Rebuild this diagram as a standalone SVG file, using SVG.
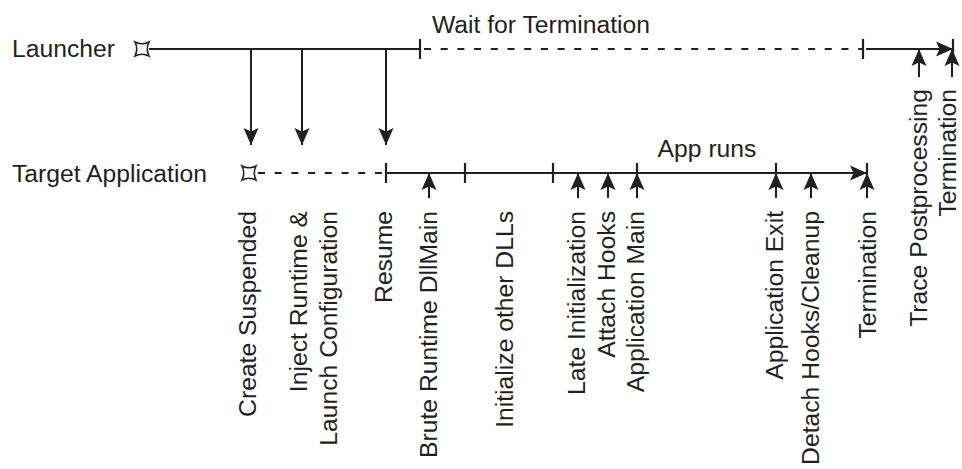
<svg xmlns="http://www.w3.org/2000/svg" width="962" height="469" viewBox="0 0 962 469">
  <style>
    text { font-family: "Liberation Sans", Arial, sans-serif; font-size: 24.7px; fill: #231f20; }
    .line { stroke: #231f20; stroke-width: 2; fill: none; }
    .dash { stroke: #231f20; stroke-width: 2; fill: none; stroke-dasharray: 7 9.7; }
    .tick { stroke: #231f20; stroke-width: 2.2; }
    .arrow { stroke: #231f20; stroke-width: 2; fill: none; marker-end: url(#head); }
    .start { fill: #fff; stroke: #231f20; stroke-width: 1.6; }
    .v { text-anchor: end; }
  </style>
  <defs>
    <marker id="head" markerUnits="userSpaceOnUse" viewBox="-18 -9 19 18" markerWidth="19" markerHeight="18" refX="0" refY="0" orient="auto">
      <path d="M0,0 L-17,-7.5 L-13.5,0 L-17,7.5 Z" fill="#231f20"/>
    </marker>
    <path id="star" d="M-7,-7 Q0,-3.5 7,-7 Q3.5,0 7,7 Q0,3.5 -7,7 Q-3.5,0 -7,-7 Z"/>
  </defs>

  <rect width="962" height="469" fill="#fff"/>

  <!-- Launcher lifeline -->
  <g id="launcher">
    <text x="12" y="57">Launcher</text>
    <line class="line" x1="149" y1="49" x2="420" y2="49"/>
    <line class="tick" x1="420" y1="39" x2="420" y2="59"/>
    <line class="dash" x1="424" y1="49" x2="862" y2="49"/>
    <line class="tick" x1="863" y1="39" x2="863" y2="59"/>
    <line class="tick" x1="953" y1="39" x2="953" y2="59"/>
    <use href="#star" class="start" x="142" y="49"/>
    <text x="541" y="33" text-anchor="middle">Wait for Termination</text>
  </g>

  <!-- Target application lifeline -->
  <g id="target">
    <text x="12" y="182">Target Application</text>
    <line class="dash" x1="258" y1="173" x2="384" y2="173"/>
    <line class="line" x1="386" y1="173" x2="866" y2="173"/>
    <line class="tick" x1="386" y1="163" x2="386" y2="183"/>
    <line class="tick" x1="465" y1="163" x2="465" y2="183"/>
    <line class="tick" x1="553" y1="163" x2="553" y2="183"/>
    <line class="tick" x1="637" y1="163" x2="637" y2="183"/>
    <line class="tick" x1="776" y1="163" x2="776" y2="183"/>
    <line class="tick" x1="867" y1="163" x2="867" y2="183"/>
    <use href="#star" class="start" x="249" y="173"/>
    <text x="707" y="157" text-anchor="middle">App runs</text>
  </g>

  <!-- Connectors -->
  <g id="connectors">
    <!-- lifeline directions -->
    <line class="arrow" x1="866" y1="49" x2="953" y2="49"/>
    <line class="arrow" x1="780" y1="173" x2="867" y2="173"/>
    <!-- launcher to target -->
    <line class="arrow" x1="251" y1="49" x2="251" y2="145"/>
    <line class="arrow" x1="302" y1="49" x2="302" y2="145"/>
    <line class="arrow" x1="386" y1="49" x2="386" y2="145"/>
    <!-- target events -->
    <line class="arrow" x1="429" y1="198" x2="429" y2="173"/>
    <line class="arrow" x1="578" y1="198" x2="578" y2="173"/>
    <line class="arrow" x1="608" y1="198" x2="608" y2="173"/>
    <line class="arrow" x1="637" y1="198" x2="637" y2="173"/>
    <line class="arrow" x1="776" y1="198" x2="776" y2="173"/>
    <line class="arrow" x1="811" y1="198" x2="811" y2="173"/>
    <line class="arrow" x1="867" y1="198" x2="867" y2="173"/>
    <!-- launcher events -->
    <line class="arrow" x1="919" y1="77" x2="919" y2="49"/>
    <line class="arrow" x1="952" y1="77" x2="952" y2="49"/>
  </g>

  <!-- Event labels -->
  <g id="labels">
    <text class="v" transform="translate(256,211) rotate(-90)">Create Suspended</text>
    <text class="v" transform="translate(307,211) rotate(-90)">Inject Runtime &amp;</text>
    <text class="v" transform="translate(337,211) rotate(-90)">Launch Configuration</text>
    <text class="v" transform="translate(392,211) rotate(-90)">Resume</text>
    <text class="v" transform="translate(437,211) rotate(-90)">Brute Runtime DllMain</text>
    <text class="v" transform="translate(513,211) rotate(-90)">Initialize other DLLs</text>
    <text class="v" transform="translate(585,211) rotate(-90)">Late Initialization</text>
    <text class="v" transform="translate(615,211) rotate(-90)">Attach Hooks</text>
    <text class="v" transform="translate(644,211) rotate(-90)">Application Main</text>
    <text class="v" transform="translate(783,211) rotate(-90)">Application Exit</text>
    <text class="v" transform="translate(819,211) rotate(-90)">Detach Hooks/Cleanup</text>
    <text class="v" transform="translate(876,211) rotate(-90)">Termination</text>
    <text class="v" transform="translate(927,89) rotate(-90)">Trace Postprocessing</text>
    <text class="v" transform="translate(956,89) rotate(-90)">Termination</text>
  </g>
</svg>
